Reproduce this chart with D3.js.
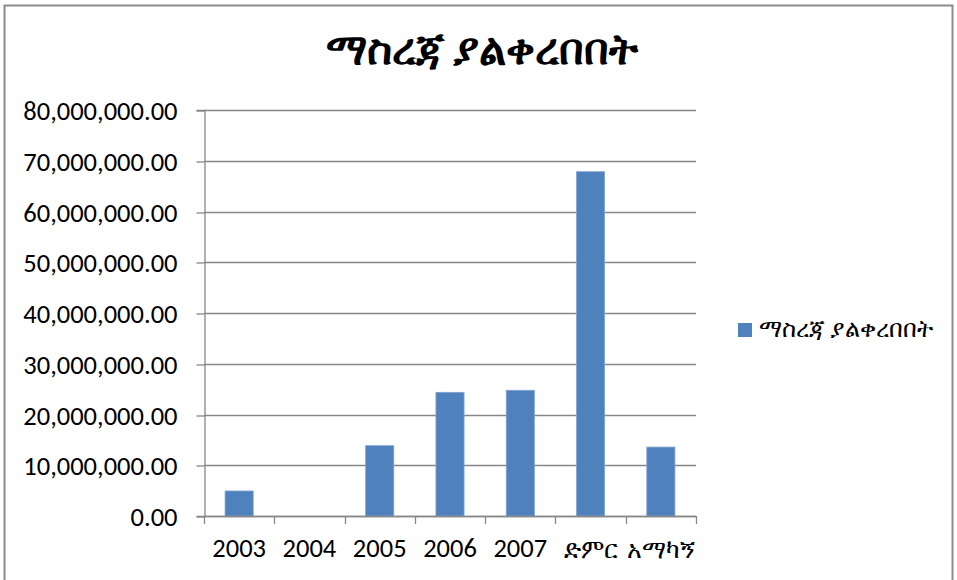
<!DOCTYPE html>
<html><head><meta charset="utf-8">
<script src="https://cdn.jsdelivr.net/npm/d3@7"></script>
<style>
html,body{margin:0;padding:0;background:#fff;}
svg{display:block;}
text{font-family:Carlito,Calibri,Lato,"Noto Sans",sans-serif;fill:#000;}
</style></head>
<body>
<svg id="chart" width="957" height="580"></svg>
<script>
const title = "ማስረጃ ያልቀረበበት";
const seriesName = "ማስረጃ ያልቀረበበት";
const categories = ["2003","2004","2005","2006","2007","ድምር","አማካኝ"];
const values = [4930000, 0, 13850000, 24370000, 24770000, 67840000, 13580000];
const yTicks = [0,10000000,20000000,30000000,40000000,50000000,60000000,70000000,80000000];

const svg = d3.select("#chart");
const m = {left:204, right:696, top:110, bottom:516};

// outer frame
svg.append("rect").attr("x",4.5).attr("y",5.5).attr("width",948).attr("height",620)
  .attr("fill","none").attr("stroke","#8c8c8c").attr("stroke-width",2);

const x = d3.scaleBand().domain(categories).range([m.left,m.right]).padding(0);
const y = d3.scaleLinear().domain([0,80000000]).range([m.bottom,m.top]);

// gridlines
svg.append("g").selectAll("line").data(yTicks).join("line")
  .attr("x1",m.left).attr("x2",m.right)
  .attr("y1",d=>Math.round(y(d))+0.5).attr("y2",d=>Math.round(y(d))+0.5)
  .attr("stroke","#878787").attr("stroke-width",1.3);

// y axis
const fmt = d3.format(",.2f");
const yAxis = svg.append("g").attr("transform",`translate(${m.left+0.5},0)`)
  .call(d3.axisLeft(y).tickValues(yTicks).tickFormat(fmt).tickSize(8).tickPadding(19));
yAxis.select(".domain").attr("stroke","#878787").attr("stroke-width",1.3);
yAxis.selectAll(".tick line").attr("stroke","#878787").attr("stroke-width",1.3)
  .attr("transform",d=>`translate(0,${Math.round(y(d))+0.5-y(d)})`);
yAxis.selectAll(".tick text").attr("font-size",26.5).attr("font-family",null).attr("dy","0.36em");

// bars
const bw = x.bandwidth()*0.4;
svg.append("g").selectAll("rect").data(values).join("rect")
  .attr("x",(d,i)=>x(categories[i])+x.bandwidth()/2-bw/2)
  .attr("width",bw)
  .attr("y",d=>y(d))
  .attr("height",d=>y(0)-y(d))
  .attr("fill","#4f81bd")
  .attr("stroke","#7ea3d3").attr("stroke-width",0.8);

// x axis
const xAxis = svg.append("g").attr("transform",`translate(0,${m.bottom+0.5})`)
  .call(d3.axisBottom(x).tickSize(0).tickPadding(24));
xAxis.select(".domain").remove();
svg.append("line").attr("x1",m.left).attr("x2",m.right)
  .attr("y1",m.bottom+0.5).attr("y2",m.bottom+0.5)
  .attr("stroke","#878787").attr("stroke-width",1.3);
const bounds = categories.map(c=>x(c)).concat([m.right]);
svg.append("g").selectAll("line").data(bounds).join("line")
  .attr("x1",d=>Math.round(d)+0.5).attr("x2",d=>Math.round(d)+0.5)
  .attr("y1",m.bottom).attr("y2",m.bottom+8)
  .attr("stroke","#878787").attr("stroke-width",1.3);
xAxis.selectAll(".tick text")
  .attr("font-size",d=>/^\d+$/.test(d)?26.5:25)
  .attr("font-family",null)
  .attr("dy",d=>/^\d+$/.test(d)?"0.62em":"0.68em");

// title
svg.append("text").attr("x",482).attr("y",64).attr("text-anchor","middle")
  .attr("font-size",43).attr("font-weight","bold").text(title);

// legend
svg.append("rect").attr("x",738).attr("y",323).attr("width",14).attr("height",14).attr("fill","#4f81bd");
svg.append("text").attr("x",759).attr("y",337).attr("font-size",24).text(seriesName);
</script>
</body></html>
